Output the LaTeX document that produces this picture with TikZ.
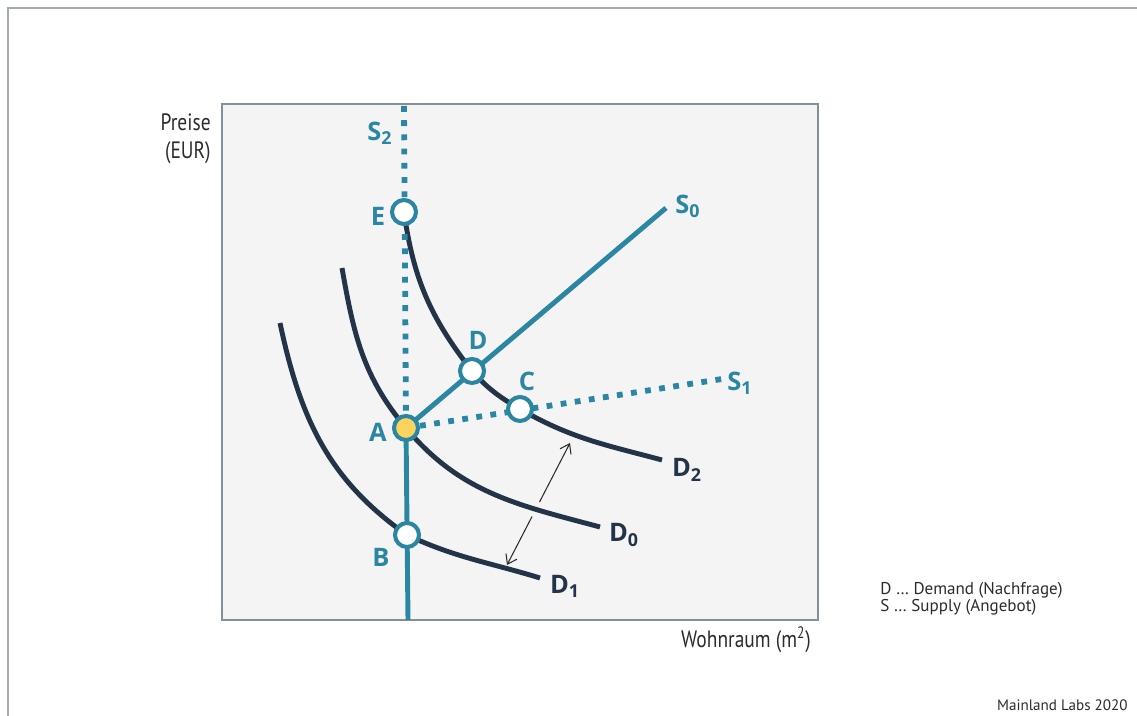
\documentclass[tikz,border=0pt]{standalone}
\usepackage{fontspec}
\setmainfont{Open Sans}
\newfontfamily\narrowfont[FakeStretch=0.82]{PT Sans}
\newfontfamily\legendfont{PT Sans}
\usepackage{xcolor}
\usepackage{tikz}
\usetikzlibrary{arrows.meta, positioning}

\definecolor{supplyblue}{HTML}{2A86A2}
\definecolor{demandnavy}{HTML}{233449}
\definecolor{pointyellow}{HTML}{FBD35D}
\definecolor{boxgray}{HTML}{F4F4F4}
\definecolor{boxline}{HTML}{858F99}
\definecolor{framegray}{HTML}{A3AAB2}
\definecolor{textgray}{HTML}{2B2B2B}

\begin{document}
\begin{tikzpicture}[x=0.02cm, y=0.02cm,
  supply/.style={draw=supplyblue, line width=2.8pt},
  shifted/.style={draw=supplyblue, line width=3.3pt, dash pattern=on 3.3pt off 4.8pt},
  demand/.style={draw=demandnavy, line width=2.8pt},
  point/.style={circle, draw=supplyblue, fill=white, line width=2.3pt, minimum size=0.48cm, inner sep=0pt},
  ptlabel/.style={font=\bfseries\fontsize{14.5}{14.5}\selectfont, text=supplyblue},
  dlabel/.style={ptlabel, text=demandnavy},
  axislabel/.style={font=\narrowfont\fontsize{13.5}{16}\selectfont, text=textgray, align=right}]

\useasboundingbox (0,0) rectangle (1137,716);

% frame and plot box
\draw[framegray, line width=0.8pt] (8,0) -- (8,708) -- (1137,708);
\draw[fill=boxgray, draw=boxline, line width=0.9pt] (222,96) rectangle (818,612);

% axis labels
\node[axislabel, anchor=east, inner sep=0pt] (price) at (211,577) {Preise\\(EUR)};
\node[axislabel] (space) at (746,76) {Wohnraum (m\textsuperscript{2})};

% points
\coordinate (pA) at (406,288);
\coordinate (pB) at (407,181);
\coordinate (pC) at (520,307);
\coordinate (pD) at (472,345);
\coordinate (pE) at (404,504);
\coordinate (s2top) at (404,610);
\coordinate (s0end) at (666,508);
\coordinate (s1end) at (722,337);
\coordinate (sbottom) at (408,96);
\coordinate (shiftup) at (570,273);
\coordinate (shiftdown) at (507,151);

% demand shift arrow
\draw[textgray, line width=0.6pt, {Straight Barb[length=5pt,width=7pt]}-{Straight Barb[length=5pt,width=7pt]}] (shiftdown) -- (shiftup);

% demand curves
\draw[demand] (280,393) to[out=-78,in=145] (pB) to[out=-25,in=163] (540,138);
\draw[demand, preaction={draw=boxgray, line width=9pt}] (342,448) to[out=-80,in=130] (pA) to[out=-50,in=165] (600,189);
\draw[demand] (pE) to[out=-82,in=128] (pD) to[out=-48,in=150] (pC) to[out=-30,in=165] (662,256);

% supply curves
\draw[shifted] (s2top) -- (pA);
\draw[supply] (pA) -- (sbottom);
\draw[supply] (pA) -- (s0end);
\draw[shifted] (pA) -- (s1end);

% circles
\node[point, fill=pointyellow] (A) at (pA) {};
\node[point] (B) at (pB) {};
\node[point] (C) at (pC) {};
\node[point] (D) at (pD) {};
\node[point] (E) at (pE) {};

% labels
\node[ptlabel] (lA) at (378,284) {A};
\node[ptlabel] (lB) at (381,159) {B};
\node[ptlabel] (lC) at (527,335) {C};
\node[ptlabel] (lD) at (478,376) {D};
\node[ptlabel] (lE) at (378,500) {E};
\node[ptlabel] (lS0) at (688,510) {S\textsubscript{0}};
\node[ptlabel] (lS1) at (740,333) {S\textsubscript{1}};
\node[ptlabel] (lS2) at (380,583) {S\textsubscript{2}};
\node[dlabel] (lD0) at (624,181) {D\textsubscript{0}};
\node[dlabel] (lD1) at (565,130) {D\textsubscript{1}};
\node[dlabel] (lD2) at (687,246) {D\textsubscript{2}};

% legend
\node[font=\legendfont\fontsize{9.7}{9.8}\selectfont, text=textgray, align=left, anchor=west, inner sep=0pt] (legend) at (880,117) {D \dots\ Demand (Nachfrage)\\S \dots\ Supply (Angebot)};
\node[font=\legendfont\fontsize{8.6}{9}\selectfont, text=textgray, anchor=east, inner sep=0pt] (credit) at (1128,11) {Mainland Labs 2020};

\end{tikzpicture}
\end{document}
